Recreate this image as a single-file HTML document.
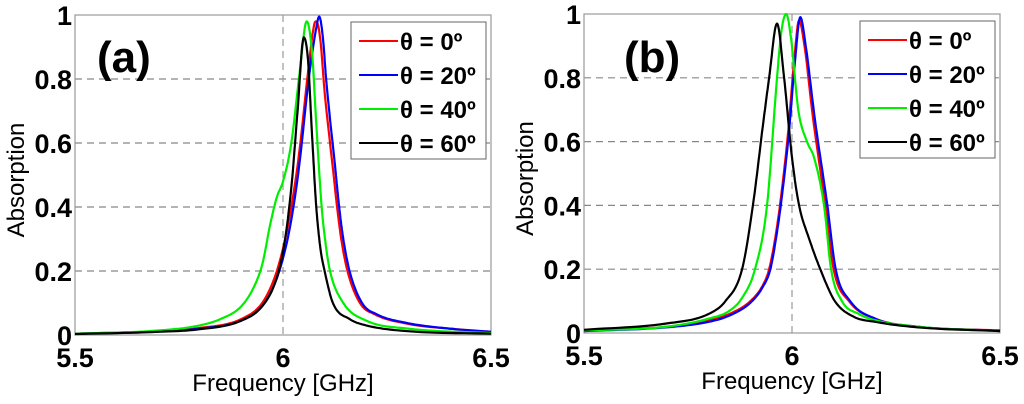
<!DOCTYPE html>
<html><head><meta charset="utf-8"><style>
body{margin:0;background:#fff;width:1024px;height:404px;overflow:hidden}
svg{display:block;font-family:"Liberation Sans",Arial,sans-serif}
</style></head><body>
<svg id="c" width="1024" height="404" viewBox="0 0 1024 404"></svg>
<script>
const xTicks=[5.5,6,6.5];
const xTickLabels=["5.5","6","6.5"];
const yTicks=[0,0.2,0.4,0.6,0.8,1];
const yTickLabels=["0","0.2","0.4","0.6","0.8","1"];
const seriesNames=["θ = 0º","θ = 20º","θ = 40º","θ = 60º"];
const seriesColors=["#ff0000","#0000ff","#00ee00","#000000"];
// Panel (a)
const aRedF=[5.5,5.7,5.8,5.9,5.95,5.98,6.0,6.02,6.04,6.06,6.075,6.08,6.09,6.1,6.12,6.13,6.14,6.155,6.185,6.22,6.3,6.4,6.5];
const aRedV=[0.004,0.012,0.022,0.05,0.1,0.18,0.27,0.4,0.58,0.82,0.97,0.98,0.92,0.76,0.52,0.4,0.3,0.2,0.1,0.065,0.035,0.02,0.01];
const aBlueF=[5.5,5.7,5.8,5.9,5.95,5.98,6.0,6.02,6.04,6.06,6.08,6.087,6.095,6.105,6.125,6.135,6.145,6.16,6.19,6.225,6.3,6.4,6.5];
const aBlueV=[0.004,0.011,0.02,0.045,0.09,0.16,0.24,0.36,0.54,0.78,0.96,0.995,0.94,0.78,0.53,0.4,0.3,0.2,0.1,0.065,0.037,0.02,0.01];
const aGreenF=[5.5,5.7,5.8,5.85,5.9,5.93,5.95,5.97,5.985,6.0,6.02,6.04,6.057,6.07,6.08,6.093,6.103,6.113,6.145,6.2,6.3,6.5];
const aGreenV=[0.004,0.014,0.03,0.05,0.09,0.15,0.22,0.35,0.43,0.48,0.6,0.82,0.98,0.88,0.66,0.4,0.28,0.2,0.1,0.045,0.02,0.006];
const aBlackF=[5.5,5.7,5.8,5.9,5.95,5.98,6.0,6.02,6.035,6.05,6.06,6.07,6.08,6.09,6.1,6.12,6.16,6.2,6.3,6.5];
const aBlackV=[0.003,0.01,0.018,0.045,0.09,0.16,0.26,0.46,0.7,0.93,0.86,0.62,0.4,0.27,0.2,0.1,0.05,0.03,0.012,0.004];
// Panel (b)
const bRedF=[5.5,5.7,5.8,5.85,5.9,5.93,5.945,5.96,5.971,5.99,6.005,6.017,6.03,6.05,6.08,6.1,6.137,6.2,6.3,6.5];
const bRedV=[0.008,0.02,0.04,0.06,0.1,0.15,0.2,0.3,0.4,0.62,0.85,0.98,0.9,0.68,0.4,0.2,0.1,0.045,0.02,0.008];
const bBlueF=[5.5,5.7,5.8,5.85,5.9,5.93,5.948,5.962,5.973,5.992,6.007,6.02,6.033,6.055,6.085,6.105,6.14,6.2,6.3,6.5];
const bBlueV=[0.006,0.018,0.035,0.055,0.095,0.145,0.2,0.3,0.4,0.62,0.85,0.99,0.9,0.67,0.4,0.2,0.1,0.045,0.02,0.007];
const bGreenF=[5.5,5.7,5.8,5.85,5.88,5.911,5.94,5.964,5.975,5.986,5.998,6.015,6.036,6.053,6.077,6.094,6.12,6.16,6.2,6.3,6.5];
const bGreenV=[0.008,0.02,0.045,0.07,0.11,0.2,0.4,0.8,0.95,1.0,0.92,0.7,0.6,0.55,0.4,0.2,0.1,0.06,0.04,0.02,0.006];
const bBlackF=[5.5,5.7,5.8,5.84,5.88,5.906,5.93,5.945,5.964,5.981,6.0,6.017,6.04,6.068,6.103,6.15,6.2,6.3,6.5];
const bBlackV=[0.01,0.03,0.06,0.1,0.2,0.4,0.65,0.8,0.97,0.8,0.55,0.4,0.3,0.2,0.1,0.05,0.035,0.018,0.006];

const NS="http://www.w3.org/2000/svg";
const svg=document.getElementById('c');
function mk(tag,attrs,parent,text){const e=document.createElementNS(NS,tag);for(const k in attrs)e.setAttribute(k,attrs[k]);if(text!==undefined)e.textContent=text;(parent||svg).appendChild(e);return e;}

// monotone cubic interpolation (Fritsch-Carlson)
function monotone(xs,ys){
  const n=xs.length,d=[],m=[];
  for(let i=0;i<n-1;i++)d.push((ys[i+1]-ys[i])/(xs[i+1]-xs[i]));
  m[0]=d[0];m[n-1]=d[n-2];
  for(let i=1;i<n-1;i++){m[i]=(d[i-1]*d[i]<=0)?0:(d[i-1]+d[i])/2;}
  for(let i=0;i<n-1;i++){if(d[i]===0){m[i]=0;m[i+1]=0;continue;}const a=m[i]/d[i],b=m[i+1]/d[i],s=a*a+b*b;if(s>9){const t=3/Math.sqrt(s);m[i]=t*a*d[i];m[i+1]=t*b*d[i];}}
  const out=[];
  for(let i=0;i<n-1;i++){const h=xs[i+1]-xs[i];const steps=12;for(let k=0;k<steps;k++){const t=k/steps,t2=t*t,t3=t2*t;
    const y=(2*t3-3*t2+1)*ys[i]+(t3-2*t2+t)*h*m[i]+(-2*t3+3*t2)*ys[i+1]+(t3-t2)*h*m[i+1];out.push([xs[i]+t*h,y]);}}
  out.push([xs[n-1],ys[n-1]]);return out;
}

function panel(id,x0,x1,yTop,yBot,label,labelX,legX,legY,series){
  const g=mk('g',{});
  
  
  const sx=v=>x0+(v-5.5)/(6.5-5.5)*(x1-x0);
  const sy=v=>yBot-v*(yBot-yTop);
  [0.2,0.4,0.6,0.8].forEach(t=>{
    const l=mk('line',{x1:x0,x2:x1,y1:sy(t),y2:sy(t),stroke:'#888','stroke-width':1.2,'stroke-dasharray':'7,5'},g);
    
    
  });
  const vl=mk('line',{x1:sx(6),x2:sx(6),y1:yTop,y2:yBot,stroke:'#999','stroke-width':1.2,'stroke-dasharray':'7,5'},g);
  
  
  const fr=mk('rect',{x:x0,y:yTop,width:x1-x0,height:yBot-yTop,fill:'none',stroke:'#999','stroke-width':1.2},g);
  
  
  series.forEach((s,i)=>{
    const pts=monotone(s[0],s[1]);
    const d=pts.map((p,j)=>(j?'L':'M')+sx(p[0]).toFixed(1)+','+sy(Math.max(0,p[1])).toFixed(1)).join(' ');
    const p=mk('path',{d:d,fill:'none',stroke:seriesColors[i],'stroke-width':2.2,'stroke-linejoin':'round'},g);
    
    
  });
  yTicks.forEach((t,i)=>{
    const tx=mk('text',{x:x0-3,y:sy(t)+10,'text-anchor':'end','font-size':27,'font-weight':'bold',fill:'#000'},g,yTickLabels[i]);
    
    
  });
  xTicks.forEach((t,i)=>{
    const tx=mk('text',{x:sx(t),y:yBot+32,'text-anchor':'middle','font-size':27,'font-weight':'bold',fill:'#000'},g,xTickLabels[i]);
    
    
  });
  const xt=mk('text',{x:sx(6),y:yBot+56,'text-anchor':'middle','font-size':24,fill:'#000'},g,'Frequency [GHz]');
  
  
  const yc=(yTop+yBot)/2+5;
  const yt=mk('text',{x:x0-51,y:yc,'text-anchor':'middle','font-size':24,fill:'#000',transform:'rotate(-90 '+(x0-51)+' '+yc+')'},g,'Absorption');
  
  
  const pl=mk('text',{x:labelX,y:72,'font-size':44,'font-weight':'bold',fill:'#000'},g,label);
  
  
  const lg=mk('g',{},g);
  
  
  mk('rect',{x:legX,y:legY,width:135,height:137,fill:'#fff',stroke:'#666','stroke-width':1},lg);
  seriesNames.forEach((n,i)=>{
    const ey=legY+19+i*34;
    const e=mk('g',{},lg);
    
    
    mk('line',{x1:legX+8,x2:legX+47,y1:ey,y2:ey,stroke:seriesColors[i],'stroke-width':2},e);
    mk('text',{x:legX+49,y:ey+9,'font-size':24,'font-weight':'bold',fill:'#000'},e,n);
  });
}
panel('a',75,491,15,335,'(a)',97,351,22,[[aRedF,aRedV],[aBlueF,aBlueV],[aGreenF,aGreenV],[aBlackF,aBlackV]]);
panel('b',584,1000,14,333,'(b)',624,860,21,[[bRedF,bRedV],[bBlueF,bBlueV],[bGreenF,bGreenV],[bBlackF,bBlackV]]);
</script>
</body></html>
